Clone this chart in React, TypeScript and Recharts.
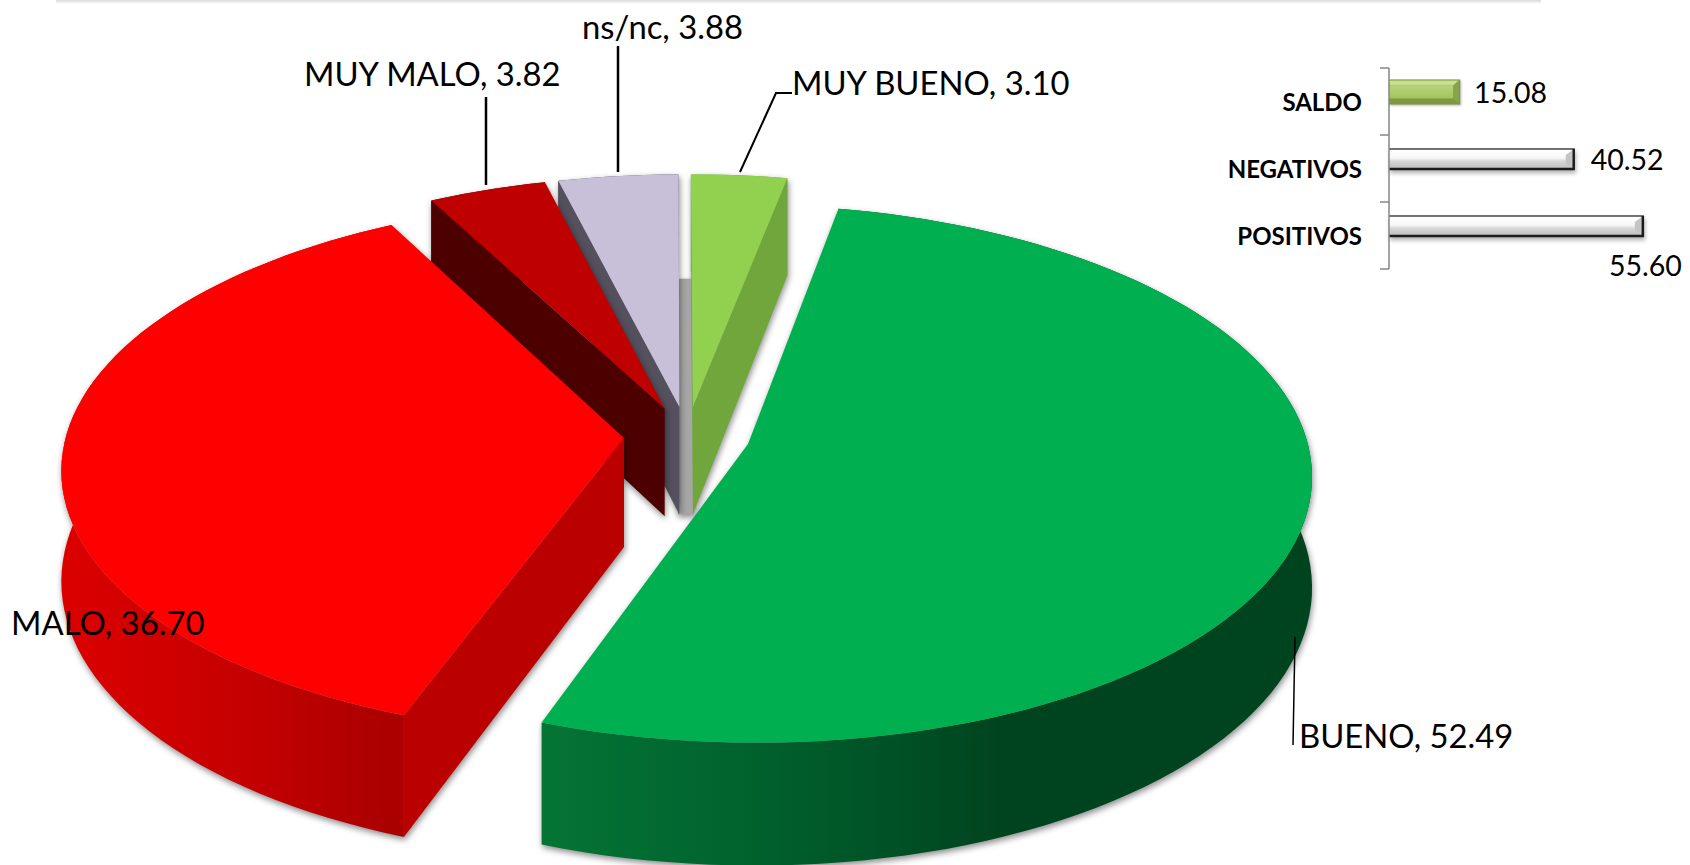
import { PieChart, Pie, BarChart, Bar, XAxis, YAxis, LabelList } from "recharts";

// drawn back to front, so the slices overlap the way the 3D pie does
const pieNames = ["MUY BUENO", "ns/nc", "MUY MALO", "MALO", "BUENO"];
const pieValues = [3.1, 3.88, 3.82, 36.7, 52.49];
const pieData = pieNames.map((name, i) => ({ name, value: pieValues[i] }));

const barNames = ["SALDO", "NEGATIVOS", "POSITIVOS"];
const barValues = [15.08, 40.52, 55.6];
const barData = barNames.map((name, i) => ({ name, value: barValues[i] }));

const FONT = "Lato, Carlito, Calibri, sans-serif";
const EXPLODE = 0.113;
const PERSPECTIVE = 0.11;
const TILT = 0.473;
const DEPTH = 109;

const FACES: Record<string, { top: string; cut: string; wall: string }> = {
  "MUY BUENO": { top: "#92D050", cut: "#70A63C", wall: "#70A63C" },
  "ns/nc": { top: "#C8BFD9", cut: "#54505E", wall: "#54505E" },
  "MUY MALO": { top: "#BE0000", cut: "#4C0000", wall: "#4C0000" },
  MALO: { top: "#FF0000", cut: "#BB0000", wall: "url(#wallRed)" },
  BUENO: { top: "#00B050", cut: "#00441F", wall: "url(#wallGreen)" },
};

const LABELS: Record<string, { x: number; y: number; leader: string; width: number }> = {
  "MUY BUENO": { x: 792, y: 82, leader: "792,93 776,93 740,172", width: 2 },
  "ns/nc": { x: 582, y: 26, leader: "618,46 618,172", width: 2.5 },
  "MUY MALO": { x: 304, y: 73, leader: "486,97 486,185", width: 2.5 },
  MALO: { x: 11, y: 622, leader: "", width: 0 },
  BUENO: { x: 1299, y: 735, leader: "1293,745 1295,637", width: 1.5 },
};

const rad = (d: number) => (d * Math.PI) / 180;

function makeProjector(cx: number, cy: number, r: number, mid: number) {
  const ox = EXPLODE * Math.cos(rad(mid));
  const oy = EXPLODE * Math.sin(rad(mid));
  return (angle: number | null, drop = 0) => {
    const u = (angle === null ? 0 : Math.cos(rad(angle))) + ox;
    const v = (angle === null ? 0 : Math.sin(rad(angle))) + oy;
    const s = 1 / (1 + PERSPECTIVE * v);
    return [cx + r * u * s, cy - r * TILT * v * s + drop * s];
  };
}

const toPath = (pts: number[][]) => "M" + pts.map((p) => `${p[0].toFixed(1)},${p[1].toFixed(1)}`).join("L") + "Z";

function Slice3D(props: any) {
  const { cx, cy, outerRadius, startAngle, endAngle, name, payload } = props;
  const label = name ?? payload?.name;
  const face = FACES[label];
  const mid = (startAngle + endAngle) / 2;
  const project = makeProjector(cx, cy, outerRadius, mid);

  const steps = Math.max(6, Math.ceil((endAngle - startAngle) / 2));
  const angles = Array.from({ length: steps + 1 }, (_, i) => startAngle + ((endAngle - startAngle) * i) / steps);
  const arcTop = angles.map((a) => project(a));
  const arcLow = angles.map((a) => project(a, DEPTH));
  const apex = project(null);
  const apexLow = project(null, DEPTH);
  const midPt = project(mid);

  // a cut face shows only when looking down past that edge leaves the slice
  const showsCut = (edge: number[]) => {
    const bx = edge[0] - apex[0];
    const by = edge[1] - apex[1];
    const inside = bx * (midPt[1] - apex[1]) - by * (midPt[0] - apex[0]);
    return bx * inside < 0;
  };
  const cuts = [
    { top: arcTop[0], low: arcLow[0] },
    { top: arcTop[steps], low: arcLow[steps] },
  ].filter((c) => showsCut(c.top));

  return (
    <g style={{ filter: "drop-shadow(1px 3px 3px rgba(0,0,0,0.45))" }}>
      {label === "MUY BUENO" && (
        <path
          d={toPath([
            [apex[0] - 15, apex[1] - 128],
            [apex[0] + 1, apex[1] - 128],
            [apexLow[0] + 1, apexLow[1]],
            [apexLow[0] - 15, apexLow[1]],
          ])}
          fill="#A6A6A6"
        />
      )}
      <path d={toPath([...arcTop, ...arcLow.slice().reverse()])} fill={face.wall} />
      {cuts.map((c, i) => (
        <path key={i} d={toPath([apex, c.top, c.low, apexLow])} fill={face.cut} />
      ))}
      <path d={toPath([apex, ...arcTop])} fill={face.top} />
    </g>
  );
}

function PieLabel(props: any) {
  const label = pieNames[props.index];
  const spot = LABELS[label];
  return (
    <g>
      {spot.leader && <polyline points={spot.leader} fill="none" stroke="#000" strokeWidth={spot.width} />}
      <text x={spot.x} y={spot.y} dominantBaseline="central" fontFamily={FONT} fontSize={32.8} fill="#000">
        {`${label}, ${pieValues[props.index].toFixed(2)}`}
      </text>
    </g>
  );
}

function BevelBar(props: any) {
  const { x, y, width, height, index } = props;
  if (!width) return null;
  if (index === 0) {
    // the green bar has a wider bevel than the white ones
    const top = y - 2.5;
    const h = height + 5;
    const right = x + width + 2;
    const bottom = top + h;
    return (
      <g style={{ filter: "drop-shadow(1px 1px 1px rgba(0,0,0,0.3))" }}>
        <rect x={x} y={top} width={right - x} height={h} fill="#7A9440" />
        <path d={`M${x},${top + 1}H${right - 1}L${right - 7},${top + 6}H${x}Z`} fill="#C8DF90" />
        <path d={`M${x},${bottom - 1}H${right - 1}L${right - 7},${bottom - 6}H${x}Z`} fill="#80993F" />
        <path d={`M${right - 1},${top + 1}V${bottom - 1}L${right - 7},${bottom - 6}V${top + 6}Z`} fill="#88A349" />
        <rect x={x} y={top + 6} width={right - x - 7} height={h - 12} fill="url(#barGreen)" />
      </g>
    );
  }
  const right = x + width;
  const bottom = y + height;
  return (
    <g style={{ filter: "drop-shadow(1px 3px 2px rgba(0,0,0,0.3))" }}>
      <rect x={x} y={y} width={width} height={height} fill="url(#barGray)" />
      <path d={`M${right - 2},${y + 1}V${bottom - 2}L${right - 9},${bottom - 5}V${y + 6}Z`} fill="#C4C4C4" />
      <path d={`M${x},${y}H${right}`} stroke="#444" strokeWidth={1.5} fill="none" />
      <path d={`M${right - 1},${y}V${bottom}H${x}`} stroke="#1c1c1c" strokeWidth={2.5} fill="none" />
    </g>
  );
}

function BarValue(props: any) {
  const { x, y, width, height, index } = props;
  if (index === 2) {
    return (
      <text x={x + width + 38} y={y + height + 29} textAnchor="end" dominantBaseline="central" fontFamily={FONT} fontSize={28.5} fill="#000">
        {barValues[index].toFixed(2)}
      </text>
    );
  }
  return (
    <text x={x + width + 16} y={y + height / 2} dominantBaseline="central" fontFamily={FONT} fontSize={28.5} fill="#000">
      {barValues[index].toFixed(2)}
    </text>
  );
}

function CategoryTick(props: any) {
  const { x, y, payload, index } = props;
  const axisX = x + 27;
  const band = 67;
  return (
    <g>
      <line x1={axisX - 9} x2={axisX} y1={y - band / 2} y2={y - band / 2} stroke="#868686" strokeWidth={1.5} />
      {index === barNames.length - 1 && (
        <line x1={axisX - 9} x2={axisX} y1={y + band / 2} y2={y + band / 2} stroke="#868686" strokeWidth={1.5} />
      )}
      <text x={x} y={y} textAnchor="end" dominantBaseline="central" fontFamily={FONT} fontWeight={700} fontSize={24} fill="#000">
        {payload.value}
      </text>
    </g>
  );
}

export default function App() {
  return (
    <div style={{ position: "absolute", left: 0, top: 0, width: 1690, height: 865, overflow: "hidden", background: "#fff" }}>
      <div
        style={{
          position: "absolute",
          left: 56,
          top: 0,
          width: 1485,
          height: 4,
          background: "linear-gradient(#d9d9d9, #ffffff)",
        }}
      />
      <div style={{ position: "absolute", left: 0, top: 0 }}>
        <PieChart width={1690} height={865} margin={{ top: 0, right: 0, bottom: 0, left: 0 }}>
          <defs>
            <linearGradient id="wallRed" gradientUnits="userSpaceOnUse" x1="60" x2="405" y1="0" y2="0">
              <stop offset="0" stopColor="#DC0000" />
              <stop offset="0.55" stopColor="#C40000" />
              <stop offset="1" stopColor="#A80000" />
            </linearGradient>
            <linearGradient id="wallGreen" gradientUnits="userSpaceOnUse" x1="537" x2="1000" y1="0" y2="0">
              <stop offset="0" stopColor="#047535" />
              <stop offset="0.5" stopColor="#00602D" />
              <stop offset="1" stopColor="#00441F" />
            </linearGradient>
          </defs>
          <Pie
            data={pieData}
            dataKey="value"
            nameKey="name"
            cx={687}
            cy={436}
            innerRadius={0}
            outerRadius={558}
            startAngle={79}
            endAngle={439}
            stroke="none"
            isAnimationActive={false}
            shape={Slice3D}
            label={PieLabel}
            labelLine={false}
          />
        </PieChart>
      </div>
      <div style={{ position: "absolute", left: 1180, top: 40 }}>
        <BarChart
          width={510}
          height={270}
          data={barData}
          layout="vertical"
          barSize={20}
          barGap={0}
          margin={{ top: 28, right: 26, bottom: 41, left: 0 }}
        >
          <defs>
            <linearGradient id="barGray" x1="0" x2="0" y1="0" y2="1">
              <stop offset="0" stopColor="#FFFFFF" />
              <stop offset="0.45" stopColor="#F8F8F8" />
              <stop offset="0.6" stopColor="#D8D8D8" />
              <stop offset="1" stopColor="#BDBDBD" />
            </linearGradient>
            <linearGradient id="barGreen" x1="0" x2="0" y1="0" y2="1">
              <stop offset="0" stopColor="#B7D57A" />
              <stop offset="1" stopColor="#A3C25C" />
            </linearGradient>
          </defs>
          <XAxis type="number" domain={[0, 60]} hide />
          <YAxis
            type="category"
            dataKey="name"
            width={209}
            stroke="#868686"
            strokeWidth={1.5}
            tickLine={false}
            tickMargin={27}
            tickSize={0}
            tick={<CategoryTick />}
          />
          <Bar dataKey="value" isAnimationActive={false} shape={<BevelBar />}>
            <LabelList dataKey="value" content={<BarValue />} />
          </Bar>
          <Bar dataKey="blank" isAnimationActive={false} />
        </BarChart>
      </div>
    </div>
  );
}
